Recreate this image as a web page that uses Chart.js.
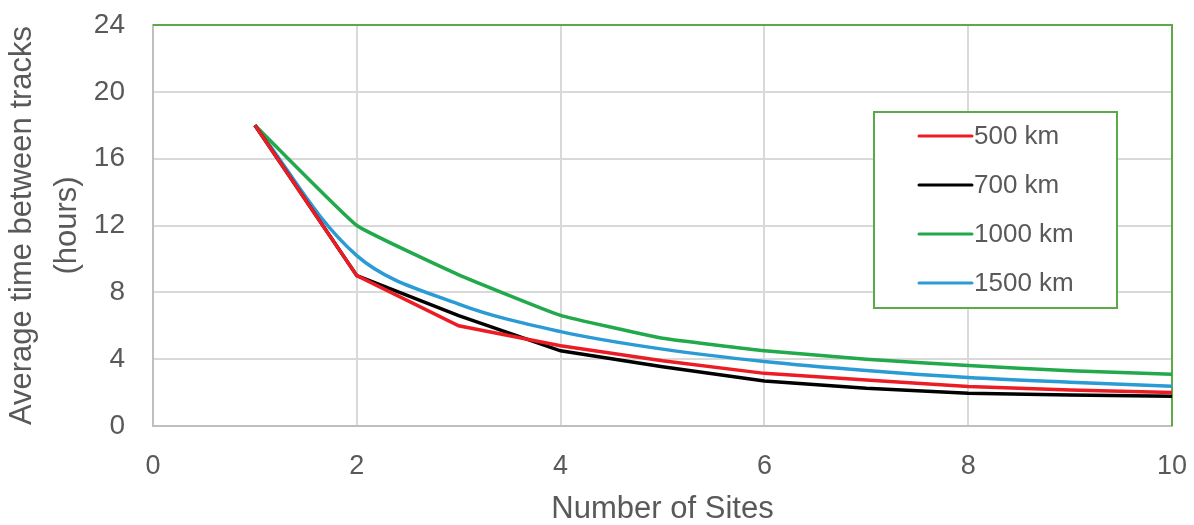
<!DOCTYPE html>
<html>
<head>
<meta charset="utf-8">
<script src="https://cdn.jsdelivr.net/npm/chart.js@4"></script>
<style>
  html, body { margin: 0; padding: 0; background: #fff; }
  #wrap { width: 1194px; height: 525px; }
</style>
</head>
<body>
<div id="wrap"><canvas id="myChart" width="1194" height="525"></canvas></div>
<script>
  var sites = [1, 2, 3, 4, 5, 6, 7, 8, 9, 10];
  var km500 = [18, 9, 6.0, 4.8, 3.9, 3.15, 2.75, 2.36, 2.15, 2.0];
  var km700 = [18, 9, 6.6, 4.5, 3.55, 2.7, 2.26, 1.96, 1.85, 1.78];
  var km1000 = [18, 12, 9.05, 6.62, 5.25, 4.5, 4.0, 3.62, 3.3, 3.1];
  var km1500 = [18, 10.2, 7.3, 5.65, 4.6, 3.86, 3.32, 2.9, 2.62, 2.38];
  var yTicks = [0, 4, 8, 12, 16, 20, 24];
  var xTicks = [0, 2, 4, 6, 8, 10];

  var textColor = '#595959';
  var fontFamily = "'Liberation Sans', Arial, sans-serif";
  var frameGreen = '#5aab45';

  function points(values) {
    return values.map(function (v, i) { return { x: sites[i], y: v }; });
  }

  // top/right frame of the plot area in green
  var plotFrame = {
    id: 'plotFrame',
    beforeDatasetsDraw: function (chart) {
      var a = chart.chartArea, c = chart.ctx;
      c.save();
      c.strokeStyle = frameGreen;
      c.lineWidth = 2;
      c.beginPath();
      c.moveTo(a.left, a.top);
      c.lineTo(a.right, a.top);
      c.lineTo(a.right, a.bottom);
      c.stroke();
      c.restore();
    }
  };

  // legend box drawn inside the plot area
  var insideLegend = {
    id: 'insideLegend',
    afterDatasetsDraw: function (chart) {
      var a = chart.chartArea, c = chart.ctx;
      var boxW = 243, boxH = 196;
      var left = a.right - 55 - boxW, top = a.top + 87;
      c.save();
      c.fillStyle = '#fff';
      c.fillRect(left, top, boxW, boxH);
      c.strokeStyle = frameGreen;
      c.lineWidth = 2;
      c.strokeRect(left, top, boxW, boxH);
      c.font = '26px ' + fontFamily;
      c.textBaseline = 'middle';
      c.textAlign = 'left';
      chart.data.datasets.forEach(function (ds, i) {
        var y = top + 24 + i * 49;
        c.strokeStyle = ds.borderColor;
        c.lineWidth = 3;
        c.lineCap = 'round';
        c.beginPath();
        c.moveTo(left + 45, y);
        c.lineTo(left + 98, y);
        c.stroke();
        c.fillStyle = textColor;
        c.fillText(ds.label, left + 100, y + 1);
      });
      c.restore();
    }
  };

  function series(label, values, color, tension) {
    return {
      label: label,
      data: points(values),
      borderColor: color,
      backgroundColor: color,
      borderWidth: 3.5,
      pointRadius: 0,
      tension: tension,
      fill: false
    };
  }

  new Chart(document.getElementById('myChart'), {
    type: 'line',
    data: {
      datasets: [
        series('500 km', km500, '#ec1c24', 0),
        series('700 km', km700, '#000000', 0),
        series('1000 km', km1000, '#22a94b', 0.1),
        series('1500 km', km1500, '#2b9bd5', 0.35)
      ]
    },
    options: {
      responsive: false,
      animation: false,
      layout: { padding: { top: 25, right: 22, left: 0, bottom: 0 } },
      plugins: {
        legend: { display: false },
        tooltip: { enabled: false }
      },
      scales: {
        x: {
          type: 'linear',
          min: 0,
          max: 10,
          afterBuildTicks: function (axis) {
            axis.ticks = xTicks.map(function (v) { return { value: v }; });
          },
          afterFit: function (axis) {
            axis.height = 99;
            axis.paddingLeft = 0;
            axis.paddingRight = 0;
          },
          grid: { color: '#d9d9d9', lineWidth: 2, drawTicks: false },
          border: { color: '#bfbfbf', width: 2 },
          ticks: {
            padding: 24,
            color: textColor,
            font: { family: fontFamily, size: 27 }
          },
          title: {
            display: true,
            text: 'Number of Sites',
            color: textColor,
            font: { family: fontFamily, size: 31, lineHeight: 1 },
            padding: { top: 0, bottom: 0 }
          }
        },
        y: {
          min: 0,
          max: 24,
          afterBuildTicks: function (axis) {
            axis.ticks = yTicks.map(function (v) { return { value: v }; });
          },
          afterFit: function (axis) {
            axis.width = 153;
            axis.paddingTop = 0;
            axis.paddingBottom = 0;
          },
          grid: { color: '#d9d9d9', lineWidth: 2, drawTicks: false },
          border: { color: '#bfbfbf', width: 2 },
          ticks: {
            padding: 28,
            color: textColor,
            font: { family: fontFamily, size: 28 }
          },
          title: {
            display: true,
            text: ['Average time between tracks', '(hours)'],
            color: textColor,
            font: { family: fontFamily, size: 31, lineHeight: 1.45 },
            padding: { top: 0, bottom: 0 }
          }
        }
      }
    },
    plugins: [plotFrame, insideLegend]
  });
</script>
</body>
</html>
